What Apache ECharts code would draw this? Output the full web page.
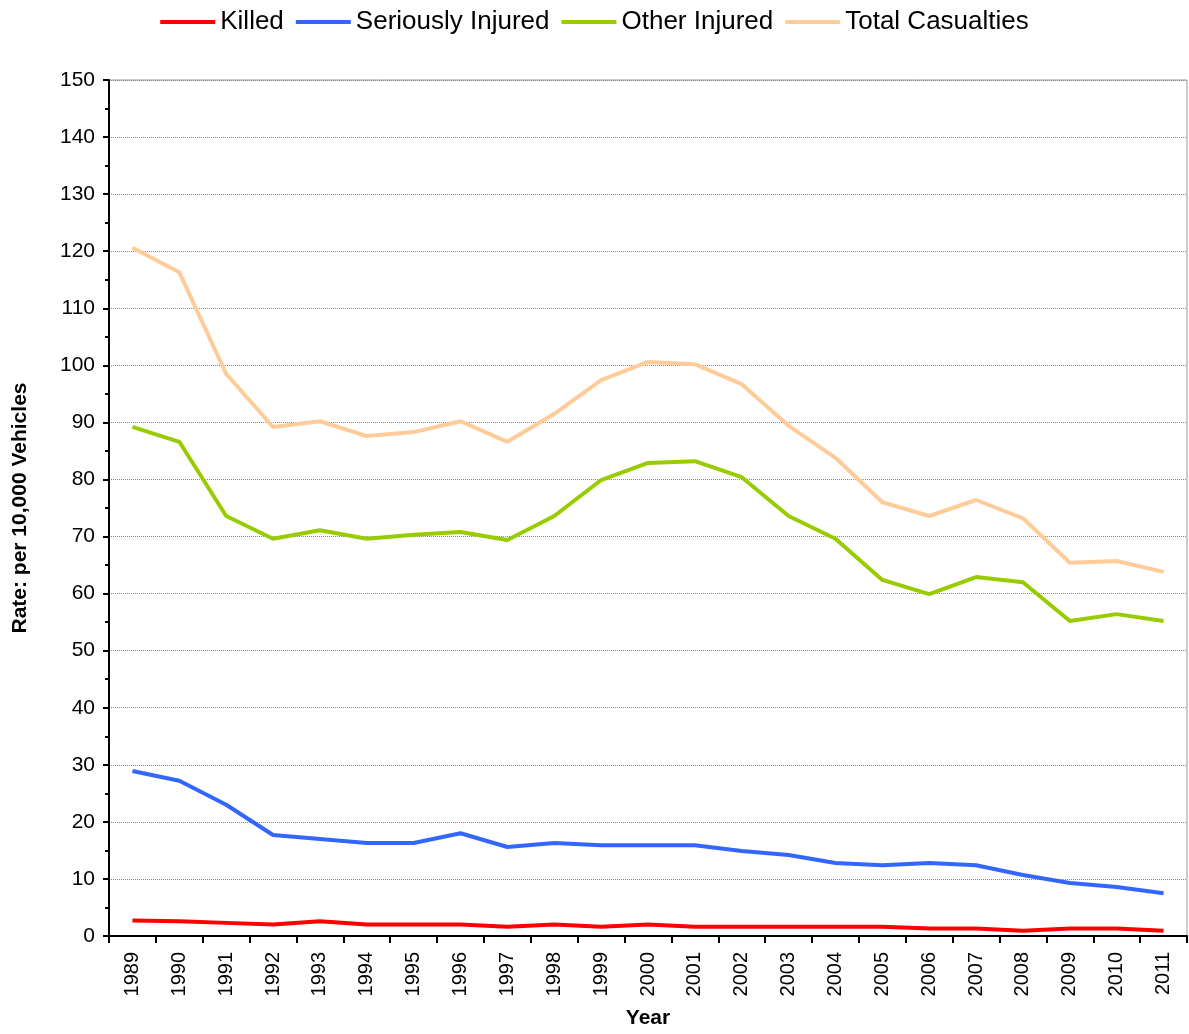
<!DOCTYPE html>
<html>
<head>
<meta charset="utf-8">
<script src="https://cdn.jsdelivr.net/npm/echarts@6/dist/echarts.min.js"></script>
<style>
  html, body { margin: 0; padding: 0; background: #fff; }
  #chart { width: 1189px; height: 1034px; }
</style>
</head>
<body>
<div id="chart"></div>
<script>
const years = ["1989","1990","1991","1992","1993","1994","1995","1996","1997","1998","1999","2000",
  "2001","2002","2003","2004","2005","2006","2007","2008","2009","2010","2011"];
const killed = [2.7,2.6,2.3,2.0,2.6,2.0,2.0,2.0,1.6,2.0,1.6,2.0,1.6,1.6,1.6,1.6,1.6,1.3,1.3,0.9,1.3,1.3,0.9];
const seriouslyInjured = [28.9,27.2,23.0,17.7,17.0,16.3,16.3,18.0,15.6,16.3,15.9,15.9,15.9,14.9,14.2,12.8,12.4,12.8,12.4,10.7,9.3,8.6,7.5];
const otherInjured = [89.2,86.6,73.6,69.6,71.1,69.6,70.3,70.8,69.4,73.6,79.9,82.9,83.2,80.4,73.6,69.6,62.4,59.9,62.9,62.0,55.2,56.4,55.2];
const totalCasualties = [120.6,116.3,98.5,89.2,90.2,87.6,88.3,90.2,86.6,91.5,97.4,100.6,100.2,96.7,89.4,83.8,76.0,73.6,76.4,73.2,65.4,65.7,63.8];

const chart = echarts.init(document.getElementById("chart"));
const font = "Liberation Sans, Arial, sans-serif";

function line(name, data, color) {
  return {
    name: name,
    type: "line",
    data: data,
    symbol: "none",
    lineStyle: { color: color, width: 4 },
    itemStyle: { color: color },
    animation: false
  };
}

chart.setOption({
  textStyle: { fontFamily: font },
  legend: {
    top: 4,
    left: "center",
    itemWidth: 55,
    itemHeight: 4,
    itemGap: 12,
    icon: "rect",
    textStyle: { fontSize: 26, color: "#000", fontFamily: font },
    data: ["Killed", "Seriously Injured", "Other Injured", "Total Casualties"]
  },
  grid: {
    left: 109, right: 2, top: 80, bottom: 98,
    show: true, borderColor: "#999", borderWidth: 1
  },
  xAxis: {
    type: "category",
    data: years,
    boundaryGap: true,
    name: "Year",
    nameLocation: "middle",
    nameGap: 72,
    nameTextStyle: { fontSize: 21, fontWeight: "bold", color: "#000", fontFamily: font },
    axisLine: { lineStyle: { color: "#000", width: 2 } },
    axisTick: { show: true, alignWithLabel: false, length: 7, inside: false, lineStyle: { color: "#000", width: 2 } },
    axisLabel: { rotate: 90, fontSize: 20, color: "#000", margin: 16, fontFamily: font },
    splitLine: { show: false }
  },
  yAxis: {
    type: "value",
    min: 0, max: 150, interval: 10,
    name: "Rate: per 10,000 Vehicles",
    nameLocation: "middle",
    nameRotate: 90,
    nameGap: 78,
    nameTextStyle: { fontSize: 21, fontWeight: "bold", color: "#000", fontFamily: font },
    axisLine: { show: true, lineStyle: { color: "#000", width: 2 } },
    axisTick: { show: true, length: 6, lineStyle: { color: "#000", width: 2 } },
    minorTick: { show: true, splitNumber: 2, length: 4, lineStyle: { color: "#000", width: 2 } },
    axisLabel: { fontSize: 21, color: "#000", margin: 14, fontFamily: font },
    splitLine: { show: true, lineStyle: { color: "#888", type: "dotted", width: 1 } }
  },
  series: [
    line("Killed", killed, "#ff0000"),
    line("Seriously Injured", seriouslyInjured, "#3366ff"),
    line("Other Injured", otherInjured, "#99cc00"),
    line("Total Casualties", totalCasualties, "#ffcc99")
  ]
});
</script>
</body>
</html>
